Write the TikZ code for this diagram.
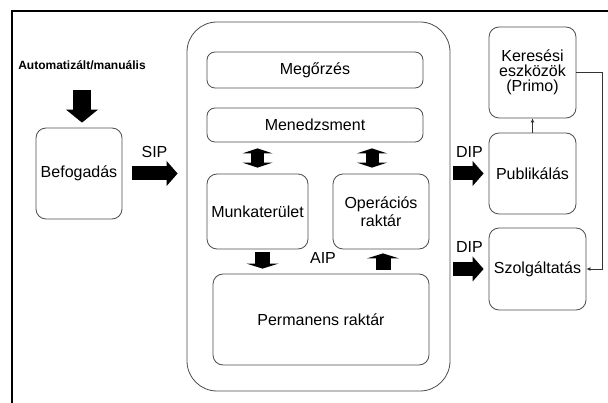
\documentclass[tikz,border=0pt]{standalone}
\usepackage{fontspec}
\setmainfont{Liberation Sans}
\usetikzlibrary{arrows.meta}
\begin{document}
\begin{tikzpicture}[x=1pt, y=-1pt, font=\fontsize{16}{17.5}\selectfont,
    box/.style={draw=black!70, line width=0.8pt, rounded corners=10pt, align=center, inner sep=0pt},
    fat/.style={line width=14pt, -{Triangle[width=25pt, length=11pt, line width=0pt]}},
    fatdown/.style={line width=18pt, -{Triangle[width=32pt, length=13pt, line width=0pt]}},
    stub/.style={line width=15pt, -{Triangle[width=32pt, length=5pt, line width=0pt]}},
    twoway/.style={line width=13pt, {Triangle[width=30pt, length=5pt, line width=0pt]}-{Triangle[width=30pt, length=5pt, line width=0pt]}},
    thinarrow/.style={draw=black!80, line width=0.8pt, -{Latex[length=4pt, width=4pt]}}]
    \useasboundingbox (0,0) rectangle (608,403);
    \draw[line width=2.2pt] (12,403) -- (12,11) -- (608,11);
    \node (auto) at (82,65)  {\fontsize{12}{14}\selectfont\bfseries Automatizált/manuális};
    \node[box, minimum width=86pt, minimum height=91pt] (befog) at (79,173.5)  {Befogadás};
    \node[box, rounded corners=30pt, minimum width=263pt, minimum height=369pt] (arch) at (318.5,206.5)  {};
    \node[box, rounded corners=8pt, minimum width=216pt, minimum height=36pt] (megorz) at (315,70)  {Megőrzés};
    \node[box, rounded corners=8pt, minimum width=216pt, minimum height=34pt] (menedzs) at (315,125)  {Menedzsment};
    \node[box, minimum width=101pt, minimum height=75pt] (munka) at (257.5,211.5)  {Munkaterület};
    \node[box, minimum width=96pt, minimum height=75pt] (opr) at (381,211.5)  {Operációs\\raktár};
    \node[box, minimum width=216pt, minimum height=91pt] (perm) at (321,319.5)  {Permanens raktár};
    \node (aip) at (323,258)  {AIP};
    \node[box, minimum width=87pt, minimum height=91pt, font=\fontsize{16}{15}\selectfont] (keres) at (532.5,72.5)  {Keresési\\eszközök\\(Primo)};
    \node[box, minimum width=87pt, minimum height=81pt] (publ) at (532.5,173.5)  {Publikálás};
    \node[box, minimum width=97pt, minimum height=82pt] (szolg) at (537.5,269)  {Szolgáltatás};
    \draw[fatdown, shorten <=17pt, shorten >=5pt] (auto) -- (auto |- befog.north);
    \draw[fat, shorten <=10pt, shorten >=9pt] (befog.east) -- (befog -| arch.west)  node[pos=.5,above=6pt] {SIP};
    \draw[twoway, shorten <=6pt, shorten >=6pt] (munka.north) -- (munka.north |- menedzs.south);
    \draw[twoway, shorten <=6pt, shorten >=6pt] ([xshift=-9pt]opr.north) -- ([xshift=-9pt]opr.north |- menedzs.south);
    \draw[stub, shorten <=3pt, shorten >=5pt] ([xshift=5pt]munka.south) -- ([xshift=5pt]munka.south |- perm.north);
    \draw[stub, shorten <=4pt, shorten >=4pt] ([xshift=2pt]opr.south |- perm.north) -- ([xshift=2pt]opr.south);
    \draw[fat, shorten <=3pt, shorten >=5pt] (arch.east |- publ) -- (publ.west)  node[pos=.5,above=6pt] {DIP};
    \draw[fat, shorten <=3pt, shorten >=5pt] (arch.east |- szolg) -- (szolg.west)  node[pos=.5,above=6pt] {DIP};
    \draw[thinarrow] (publ.north) -- (keres.south);
    \draw[thinarrow] (keres.east) -- ++(26,0) |- (szolg.east);
\end{tikzpicture}
\end{document}
